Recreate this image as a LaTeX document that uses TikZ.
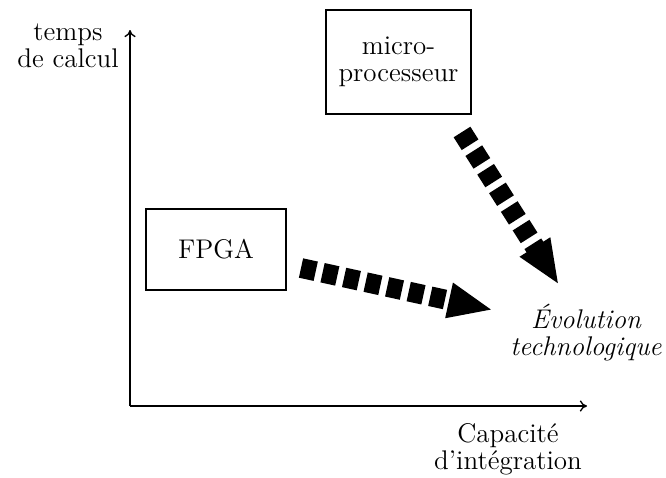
\documentclass[tikz,border=0pt]{standalone}
\usetikzlibrary{arrows.meta}
\begin{document}
\begin{tikzpicture}[x=0.4444pt,y=-0.4444pt,
  lbl/.style={font=\fontsize{12}{12}\selectfont,align=center,inner sep=0pt},
  box/.style={draw,line width=0.6pt,inner sep=0pt},
  axis/.style={line width=0.6pt,-{To[length=3.2pt,width=5pt]}},
  trend/.style={line width=8.8pt,dash pattern=on 6.7pt off 3.1pt,
    -{Triangle[length=20pt,width=14.5pt]}}]
\useasboundingbox (0,0) rectangle (666,477);

% axes
\coordinate (o) at (130,406);
\coordinate (ytop) at (130,30);
\coordinate (xend) at (587,406);
\draw[axis] (o) -- (ytop);
\draw[axis] (o) -- (xend);

% axis labels
\node[lbl] (ylab) at (68,46) {temps\\de calcul};
\node[lbl] (xlab) at (508,449) {Capacit\'e\\d'int\'egration};

% the two technologies
\node[box,minimum width=62.2pt,minimum height=36pt] (fpga) at (216,249.5) {};
\node[lbl] (fpgat) at (fpga.center) {FPGA};
\node[box,minimum width=64.4pt,minimum height=46.2pt] (mp) at (398.5,62) {};
\node[lbl] (mpt) at (398.5,62) {micro-\\processeur};

% trend label
\node[lbl,font=\fontsize{12}{12}\selectfont\itshape] (evo) at (586,333) {\'Evolution\\technologique};

% dashed trend arrows
\coordinate (f0) at (301,268);
\coordinate (f1) at (493,310);
\coordinate (m0) at (462,132);
\coordinate (m1) at (559,285);
\draw[trend] (f0) -- (f1);
\draw[trend] (m0) -- (m1);
\end{tikzpicture}
\end{document}
